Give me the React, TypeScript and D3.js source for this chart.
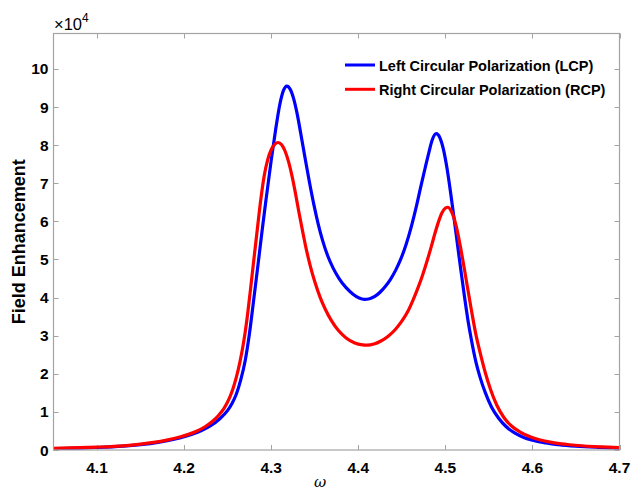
import React, { useEffect, useRef } from "react";
import * as d3 from "d3";

// Left circular polarization (LCP), field enhancement in units of 1e4
const lcpOmega = [
  4.05, 4.08, 4.1, 4.13, 4.15, 4.17, 4.19, 4.2, 4.21, 4.22, 4.23, 4.24, 4.25, 4.255, 4.26,
  4.265, 4.27, 4.275, 4.28, 4.285, 4.29, 4.294, 4.3, 4.305, 4.31, 4.314, 4.318, 4.322, 4.326,
  4.33, 4.334, 4.339, 4.344, 4.349, 4.354, 4.359, 4.365, 4.371, 4.378, 4.386, 4.394, 4.401,
  4.407, 4.413, 4.419, 4.425, 4.431, 4.437, 4.443, 4.449, 4.455, 4.461, 4.467, 4.472, 4.477,
  4.481, 4.485, 4.4895, 4.494, 4.498, 4.502, 4.506, 4.51, 4.514, 4.518, 4.522, 4.526, 4.53,
  4.535, 4.54, 4.546, 4.553, 4.561, 4.57, 4.58, 4.59, 4.6, 4.615, 4.63, 4.65, 4.675, 4.7,
];
const lcpValues = [
  0.035, 0.05, 0.065, 0.1, 0.14, 0.2, 0.29, 0.35, 0.42, 0.51, 0.63, 0.8, 1.04, 1.22, 1.47,
  1.84, 2.33, 3.05, 3.96, 4.89, 5.84, 6.56, 7.6, 8.39, 9.08, 9.43, 9.55, 9.46, 9.2,
  8.8, 8.3, 7.65, 7.02, 6.44, 5.93, 5.5, 5.09, 4.78, 4.5, 4.26, 4.09, 3.99,
  3.955, 3.97, 4.03, 4.14, 4.29, 4.48, 4.72, 5.02, 5.4, 5.87, 6.42, 6.93, 7.42,
  7.8, 8.14, 8.3, 8.18, 7.87, 7.38, 6.76, 6.08, 5.38, 4.69, 4.02, 3.4, 2.88,
  2.32, 1.9, 1.5, 1.13, 0.84, 0.61, 0.44, 0.33, 0.26, 0.185, 0.14, 0.1, 0.07, 0.05,
];

// Right circular polarization (RCP)
const rcpOmega = [
  4.05, 4.08, 4.1, 4.13, 4.15, 4.165, 4.18, 4.195, 4.205, 4.215, 4.224, 4.232, 4.24, 4.246,
  4.252, 4.256, 4.26, 4.264, 4.268, 4.272, 4.276, 4.28, 4.284, 4.288, 4.292, 4.296, 4.3,
  4.304, 4.308, 4.312, 4.316, 4.32, 4.324, 4.328, 4.332, 4.336, 4.34, 4.345, 4.35, 4.356,
  4.362, 4.369, 4.377, 4.386, 4.396, 4.405, 4.41, 4.418, 4.426, 4.434, 4.442, 4.45, 4.457,
  4.463, 4.469, 4.474, 4.479, 4.484, 4.488, 4.492, 4.496, 4.5, 4.503, 4.506, 4.51, 4.514,
  4.518, 4.522, 4.526, 4.53, 4.535, 4.54, 4.546, 4.552, 4.559, 4.567, 4.576, 4.586, 4.596,
  4.608, 4.622, 4.64, 4.66, 4.68, 4.7,
];
const rcpValues = [
  0.045, 0.06, 0.075, 0.11, 0.155, 0.2, 0.26, 0.34, 0.41, 0.5, 0.61, 0.74, 0.92, 1.1,
  1.36, 1.6, 1.91, 2.3, 2.78, 3.4, 4.17, 4.98, 5.78, 6.56, 7.2, 7.62, 7.88,
  8.02, 8.07, 8.01, 7.84, 7.56, 7.18, 6.72, 6.22, 5.75, 5.3, 4.82, 4.42, 4.02,
  3.7, 3.4, 3.14, 2.94, 2.81, 2.76, 2.75, 2.78, 2.86, 2.98, 3.15, 3.38, 3.64,
  3.94, 4.28, 4.6, 4.96, 5.35, 5.68, 5.98, 6.22, 6.35, 6.37, 6.3, 6.08, 5.72,
  5.25, 4.73, 4.19, 3.66, 3.04, 2.55, 2.02, 1.58, 1.18, 0.86, 0.63, 0.47, 0.36,
  0.27, 0.2, 0.145, 0.105, 0.08, 0.06,
];

const xTicks = [4.1, 4.2, 4.3, 4.4, 4.5, 4.6, 4.7];
const yTicks = [0, 1, 2, 3, 4, 5, 6, 7, 8, 9, 10];

const seriesNames = ["Left Circular Polarization (LCP)", "Right Circular Polarization (RCP)"];
const seriesColors = ["#0000ff", "#ff0000"];

const FONT = "'Liberation Sans', Arial, Helvetica, sans-serif";

const App = () => {
  const svgRef = useRef<SVGSVGElement>(null);

  useEffect(() => {
    const W = 633;
    const H = 491;
    const left = 53.5, right = 619.5, top = 33.5, bottom = 450;

    const svg = d3.select(svgRef.current);
    svg.selectAll("*").remove();
    svg.attr("width", W).attr("height", H);

    const x = d3.scaleLinear().domain([4.05, 4.7]).range([left, right]);
    const y = d3.scaleLinear().domain([0, 10.93]).range([bottom, top]);

    svg.append("rect").attr("width", W).attr("height", H).attr("fill", "#fff");

    const axisColor = "#a3a3a3";
    const tickLen = 5;

    // ticks, inward on all four sides
    const g = svg.append("g").attr("stroke", axisColor).attr("stroke-width", 1);
    xTicks.forEach((t) => {
      const px = Math.round(x(t)) + 0.5;
      g.append("line").attr("x1", px).attr("x2", px).attr("y1", bottom).attr("y2", bottom - tickLen);
      g.append("line").attr("x1", px).attr("x2", px).attr("y1", top).attr("y2", top + tickLen);
    });
    yTicks.forEach((t) => {
      const py = Math.round(y(t)) + 0.5;
      g.append("line").attr("x1", left).attr("x2", left + tickLen).attr("y1", py).attr("y2", py);
      g.append("line").attr("x1", right).attr("x2", right - tickLen).attr("y1", py).attr("y2", py);
    });

    // curves
    const clipId = "plot-clip";
    svg.append("clipPath").attr("id", clipId)
      .append("rect").attr("x", left).attr("y", top).attr("width", right - left).attr("height", bottom - top);

    const line = d3.line<[number, number]>()
      .x((d) => x(d[0]))
      .y((d) => y(d[1]))
      .curve(d3.curveMonotoneX);

    const series = [
      lcpOmega.map((w, i) => [w, lcpValues[i]] as [number, number]),
      rcpOmega.map((w, i) => [w, rcpValues[i]] as [number, number]),
    ];

    series.forEach((s, i) => {
      svg.append("path")
        .attr("d", line(s))
        .attr("fill", "none")
        .attr("stroke", seriesColors[i])
        .attr("stroke-width", 3.2)
        .attr("stroke-linejoin", "round")
        .attr("clip-path", `url(#${clipId})`);
    });

    // axes box
    svg.append("rect")
      .attr("x", left).attr("y", top)
      .attr("width", right - left).attr("height", bottom - top)
      .attr("fill", "none").attr("stroke", axisColor).attr("stroke-width", 1.2);

    // tick labels
    svg.append("g").selectAll("text").data(xTicks).enter().append("text")
      .attr("x", (d) => x(d))
      .attr("y", 473)
      .attr("text-anchor", "middle")
      .attr("font-family", FONT).attr("font-size", 15.5).attr("font-weight", "bold")
      .text((d) => d.toFixed(1));

    svg.append("g").selectAll("text").data(yTicks).enter().append("text")
      .attr("x", left - 5)
      .attr("y", (d) => y(d) + 5.5)
      .attr("text-anchor", "end")
      .attr("font-family", FONT).attr("font-size", 15.5).attr("font-weight", "bold")
      .text((d) => String(d));

    // exponent
    const ex = svg.append("text")
      .attr("x", 54).attr("y", 30)
      .attr("font-family", FONT).attr("font-size", 16.5);
    ex.append("tspan").text("\u00d710");
    ex.append("tspan").attr("font-size", 12).attr("dy", -8).text("4");

    // axis labels
    svg.append("text")
      .attr("transform", `translate(25, ${(top + bottom) / 2}) rotate(-90)`)
      .attr("text-anchor", "middle")
      .attr("font-family", FONT).attr("font-size", 18).attr("font-weight", "bold")
      .text("Field Enhancement");

    svg.append("text")
      .attr("x", 320).attr("y", 487)
      .attr("text-anchor", "middle")
      .attr("font-family", "'DejaVu Serif', serif").attr("font-style", "italic").attr("font-size", 15)
      .text("\u03c9");

    // legend
    seriesNames.forEach((name, i) => {
      const ly = 65 + i * 24.3;
      svg.append("line")
        .attr("x1", 345).attr("x2", 375).attr("y1", ly).attr("y2", ly)
        .attr("stroke", seriesColors[i]).attr("stroke-width", 3);
      svg.append("text")
        .attr("x", 379).attr("y", ly + 5.5)
        .attr("font-family", FONT).attr("font-size", 14.5).attr("font-weight", "bold")
        .text(name);
    });
  }, []);

  return <svg ref={svgRef} style={{ position: "absolute", left: 0, top: 0 }}></svg>;
};

export default App;
